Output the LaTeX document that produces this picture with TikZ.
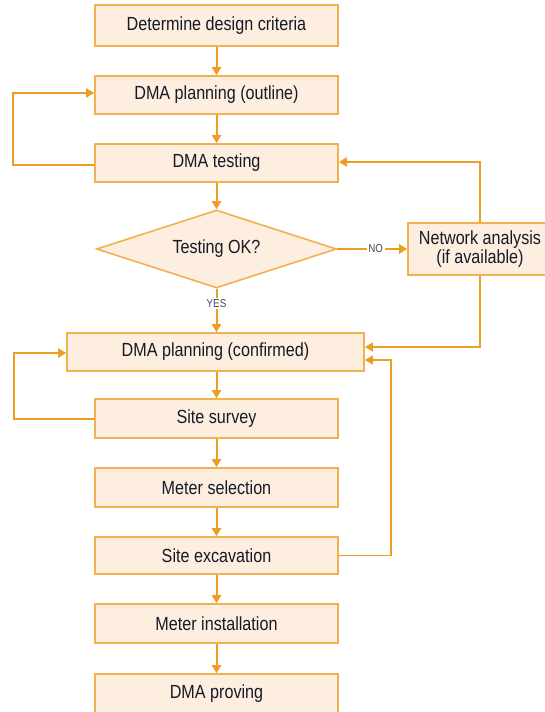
\documentclass[tikz,border=0pt]{standalone}
\usepackage{fontspec}
\setmainfont{Liberation Sans}[FakeStretch=0.85]
\usetikzlibrary{arrows.meta,shapes.geometric}
\definecolor{lineor}{RGB}{236,158,36}
\definecolor{boxor}{RGB}{243,176,80}
\definecolor{boxfill}{RGB}{253,238,223}
\definecolor{txt}{RGB}{22,26,40}
\tikzset{
  stepbox/.style={draw=boxor, fill=boxfill, line width=1.6pt, minimum width=243pt,
    minimum height=38pt, inner sep=0pt, text=txt, font=\fontsize{19}{15}\selectfont},
  decide/.style={diamond, aspect=3, draw=boxor, fill=boxfill, line width=1.6pt, minimum width=240pt,
    minimum height=78pt, inner sep=0pt, text=txt, font=\fontsize{19}{15}\selectfont},
  arr/.style={draw=lineor, line width=2pt, -{Triangle[length=8pt,width=9pt]}},
  thin arr/.style={draw=lineor, line width=1.6pt, -{Triangle[length=8pt,width=9pt]}},
  lbl/.style={fill=white, inner sep=1.5pt, text=txt!80, font=\fontsize{11.5}{11.5}\selectfont}
}
\begin{document}
\begin{tikzpicture}[x=1pt,y=-1pt]
\useasboundingbox (0,0) rectangle (545,712);
\node[stepbox, minimum height=41pt] (b1) at (216.5,25.5) {Determine design criteria};
\node[stepbox] (b2) at (216.5,95) {DMA planning (outline)};
\node[stepbox] (b3) at (216.5,163) {DMA testing};
\node[decide] (d) at (216.5,249) {Testing OK?};
\node[stepbox, minimum width=144pt, minimum height=52pt, align=center] (net) at (480,249)
  {Network analysis\\(if available)};
\node[stepbox, minimum width=297pt] (conf) at (215.5,352) {DMA planning (confirmed)};
\node[stepbox, minimum height=39pt] (sur) at (216.5,418.5) {Site survey};
\node[stepbox, minimum height=39pt] (sel) at (216.5,487.5) {Meter selection};
\node[stepbox, minimum height=37pt] (exc) at (216.5,555.5) {Site excavation};
\node[stepbox, minimum height=39pt] (ins) at (216.5,623.5) {Meter installation};
\node[stepbox, minimum height=39pt] (prov) at (216.5,693.5) {DMA proving};
\coordinate (L1) at (13,0);
\coordinate (L2) at (14,0);
\coordinate (R2) at (391,0);
% main flow
\draw[arr] (b1) -- (b2);
\draw[arr] (b2) -- (b3);
\draw[arr] (b3) -- (d);
\draw[arr] (d.south) -- node[lbl, pos=0.33] {YES} (d.south |- conf.north);
\draw[arr] (conf.south -| sur.north) -- (sur.north);
\draw[arr] (sur) -- (sel);
\draw[arr] (sel) -- (exc);
\draw[arr] (exc) -- (ins);
\draw[arr] (ins) -- (prov);
% loops
\draw[arr] ([yshift=-2pt]b3.west) -- ([yshift=-2pt]b3.west -| L1) |- ([yshift=2pt]b2.west);
\draw[arr] ([yshift=-0.5pt]sur.west) -- ([yshift=-0.5pt]sur.west -| L2) |- ([yshift=-1pt]conf.west);
\draw[arr] (d.east) -- node[lbl, pos=0.55] {NO} (net.west);
\draw[thin arr] (net.north) |- ([yshift=1pt]b3.east);
\draw[thin arr] (net.south) |- ([yshift=5pt]conf.east);
\draw[thin arr] (exc.east) -- (exc.east -| R2) |- ([yshift=-8pt]conf.east);
\end{tikzpicture}
\end{document}
